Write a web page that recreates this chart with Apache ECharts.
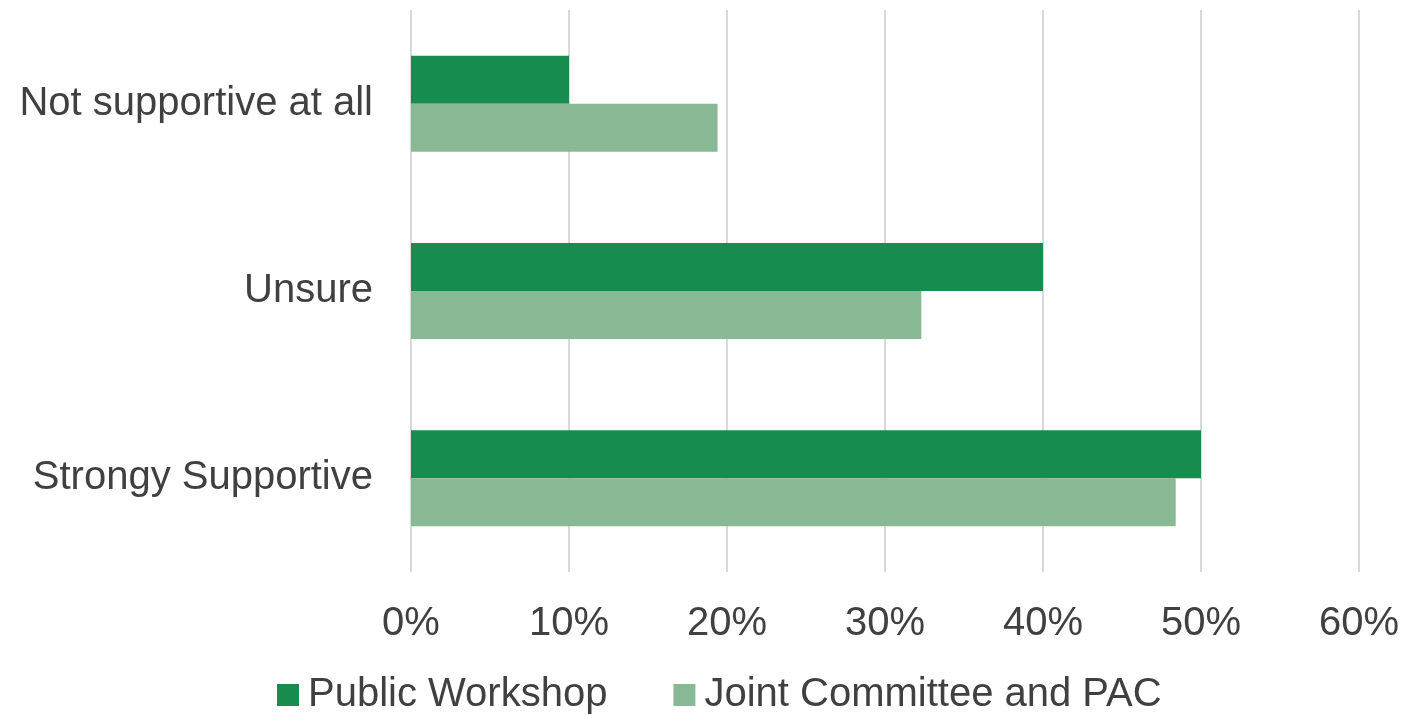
<!DOCTYPE html>
<html>
<head>
<meta charset="utf-8">
<script src="https://cdn.jsdelivr.net/npm/echarts@6/dist/echarts.min.js"></script>
<style>
  html, body { margin: 0; padding: 0; background: #fff; }
  #chart { width: 1404px; height: 715px; }
</style>
</head>
<body>
<div id="chart"></div>
<script>
// categories bottom to top
const categories = ['Strongy Supportive', 'Unsure', 'Not supportive at all'];
const publicWorkshop = [50, 40, 10];
const jointCommittee = [48.4, 32.3, 19.4];
const xTicks = [0, 10, 20, 30, 40, 50, 60];

const chart = echarts.init(document.getElementById('chart'));
const font = 'Liberation Sans';
const textColor = '#404040';

chart.setOption({
  animation: false,
  grid: { left: 411, right: 45, top: 10, bottom: 143 },
  legend: {
    bottom: -5,
    left: 272,
    itemWidth: 22,
    itemHeight: 22,
    itemGap: 66,
    icon: 'rect',
    textStyle: { fontFamily: font, fontSize: 40, color: textColor, padding: [0, 0, 0, 4] },
    data: ['Public Workshop', 'Joint Committee and PAC']
  },
  xAxis: {
    type: 'value',
    min: xTicks[0],
    max: xTicks[xTicks.length - 1],
    interval: 10,
    axisLine: { show: false },
    axisTick: { show: false },
    splitLine: { lineStyle: { color: '#d9d9d9', width: 2 } },
    axisLabel: {
      formatter: '{value}%',
      fontFamily: font,
      fontSize: 40,
      color: textColor,
      margin: 32
    }
  },
  yAxis: {
    type: 'category',
    data: categories,
    axisLine: { show: false },
    axisTick: { show: false },
    axisLabel: { fontFamily: font, fontSize: 40, color: textColor, margin: 38 }
  },
  series: [
    {
      name: 'Public Workshop',
      type: 'bar',
      data: publicWorkshop,
      itemStyle: { color: '#178C4E' },
      barWidth: 48,
      barGap: '0%',
      z: 3
    },
    {
      name: 'Joint Committee and PAC',
      type: 'bar',
      data: jointCommittee,
      itemStyle: { color: '#88B894' },
      barWidth: 48,
      barGap: '0%',
      z: 3
    }
  ]
});
</script>
</body>
</html>
